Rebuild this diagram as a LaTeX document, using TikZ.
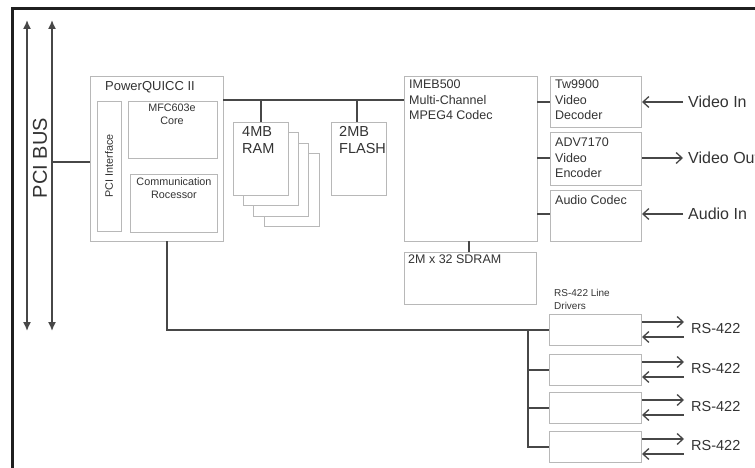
\documentclass[tikz,border=0pt]{standalone}
\usepackage{fontspec}
\setmainfont{Liberation Sans}
\usetikzlibrary{arrows.meta}
\tikzset{
  box/.style={draw=black!28, line width=1pt, fill=white, inner sep=0pt, anchor=north west},
  conn/.style={draw=black!72, line width=1.8pt},
  sig/.style={draw=black!72, line width=1.5pt},
  txt/.style={inner sep=0pt, text=black!80, align=left},
  big/.style={txt, font=\fontsize{14.5}{17}\selectfont},
  mid/.style={txt, font=\fontsize{12.5}{15.3}\selectfont},
  small/.style={txt, font=\fontsize{10.8}{13}\selectfont},
  lab/.style={txt, font=\fontsize{16}{19}\selectfont, anchor=west},
  rs/.style={txt, font=\fontsize{14.5}{17}\selectfont, anchor=west},
  barb/.tip={Straight Barb[length=6pt,width=11pt,line width=1.3pt]},
  pcitip/.tip={Latex[length=9pt,width=8pt]}
}
\begin{document}
\begin{tikzpicture}[x=1pt,y=-1pt]
\useasboundingbox (0,0) rectangle (755,468);
% frame
\draw[line width=3pt, black!88] (12,470) -- (12,9) -- (757,9);
% PCI bus
\coordinate (pa1) at (27,20); \coordinate (pa2) at (27,331);
\coordinate (pb1) at (52,20); \coordinate (pb2) at (52,331);
\draw[sig, pcitip-pcitip] (pa1) -- (pa2);
\draw[sig, pcitip-pcitip] (pb1) -- (pb2);
\node[txt, font=\fontsize{20}{24}\selectfont, rotate=90] (pcilab) at (40,158) {PCI BUS};
% PowerQUICC
\node[box, minimum width=133pt, minimum height=165pt] (pq) at (90,76) {};
\node[txt, font=\fontsize{13}{15}\selectfont, anchor=west] (pqlab) at (105,87) {PowerQUICC II};
\node[box, minimum width=24pt, minimum height=130pt] (pci) at (97,101) {};
\node[small, rotate=90] (pcitext) at (109,166) {PCI Interface};
\node[box, minimum width=89pt, minimum height=57pt] (core) at (128,101) {};
\node[small, align=center, anchor=north] (coretext) at (172,104) {MFC603e\\Core};
\node[box, minimum width=87pt, minimum height=58pt] (comm) at (130,174) {};
\node[small, align=center, anchor=north] (commtext) at (174,177) {Communication\\Rocessor};
\coordinate (pcitap) at (52,162);
\draw[conn] (pcitap) -- (pcitap -| pq.west);
% RAM stack
\node[box, minimum width=55pt, minimum height=73pt] (ram4) at (264,153) {};
\node[box, minimum width=55pt, minimum height=73pt] (ram3) at (253,143) {};
\node[box, minimum width=55pt, minimum height=73pt] (ram2) at (243,132) {};
\node[box, minimum width=55pt, minimum height=73pt] (ram) at (233,122) {};
\node[big, anchor=north west] (ramtext) at (242,126) {4MB\\RAM};
% FLASH
\node[box, minimum width=55pt, minimum height=73pt] (flash) at (331,122) {};
\node[big, anchor=north west] (flashtext) at (339,126) {2MB\\FLASH};
% IMEB500
\node[box, minimum width=133pt, minimum height=165pt] (imeb) at (404,76) {};
\node[mid, anchor=north west] (imebtext) at (409,80) {IMEB500\\Multi-Channel\\MPEG4 Codec};
% bus
\coordinate (bus) at (223,100);
\draw[conn] (bus) -- (bus -| imeb.west);
\draw[conn] (bus -| ram.north) -- (ram.north);
\coordinate (ftap) at (357,100);
\draw[conn] (ftap) -- (ftap |- flash.north);
% video / audio
\node[box, minimum width=91pt, minimum height=51pt] (dec) at (550,76) {};
\node[mid, anchor=north west] (dectext) at (555,80) {Tw9900\\Video\\Decoder};
\node[box, minimum width=91pt, minimum height=53pt] (enc) at (550,132) {};
\node[mid, anchor=north west] (enctext) at (555,138) {ADV7170\\Video\\Encoder};
\node[box, minimum width=91pt, minimum height=51pt] (aud) at (550,190) {};
\node[mid, anchor=north west] (audtext) at (555,195) {Audio Codec};
\coordinate (c1) at (537,102); \coordinate (c2) at (537,158); \coordinate (c3) at (537,214);
\draw[conn] (c1) -- (c1 -| dec.west);
\draw[conn] (c2) -- (c2 -| enc.west);
\draw[conn] (c3) -- (c3 -| aud.west);
\coordinate (vi) at (683,102); \coordinate (vo) at (683,158); \coordinate (ai) at (683,214);
\draw[sig, -barb] (vi) -- (vi -| dec.east);
\draw[sig, -barb] (vo -| enc.east) -- (vo);
\draw[sig, -barb] (ai) -- (ai -| aud.east);
\node[lab] (vitext) at (688,102) {Video In};
\node[lab] (votext) at (688,158) {Video Out};
\node[lab] (aitext) at (688,214) {Audio In};
% SDRAM
\node[box, minimum width=132pt, minimum height=52pt] (sdram) at (404,252) {};
\node[mid, anchor=north west] (sdtext) at (408,255) {2M x 32 SDRAM};
\coordinate (sdtap) at (469,241);
\draw[conn] (sdtap) -- (sdtap |- sdram.north);
% RS-422 drivers
\node[small, font=\fontsize{10}{13.5}\selectfont, anchor=north west] (drvlab) at (554,289) {RS-422 Line\\Drivers};
\node[box, minimum width=92pt, minimum height=31pt] (drv1) at (549,314) {};
\node[box, minimum width=92pt, minimum height=31pt] (drv2) at (549,354) {};
\node[box, minimum width=92pt, minimum height=31pt] (drv3) at (549,392) {};
\node[box, minimum width=92pt, minimum height=31pt] (drv4) at (549,431) {};
\coordinate (pqtap) at (167,241);
\draw[conn] (pqtap) |- (drv1.west);
\coordinate (br) at (528,329.5);
\draw[conn] (br) |- (drv4.west);
\draw[conn] (br |- drv2.west) -- (drv2.west);
\draw[conn] (br |- drv3.west) -- (drv3.west);
\foreach \d in {1,2,3,4}{
  \draw[sig, -barb] ([yshift=-8pt]drv\d.north east) -- ++(42,0);
  \draw[sig, barb-] ([yshift=-23pt]drv\d.north east) -- ++(42,0);
  \node[rs] (rs\d) at ([xshift=49pt,yshift=1pt]drv\d.east) {RS-422};
}
\end{tikzpicture}
\end{document}
